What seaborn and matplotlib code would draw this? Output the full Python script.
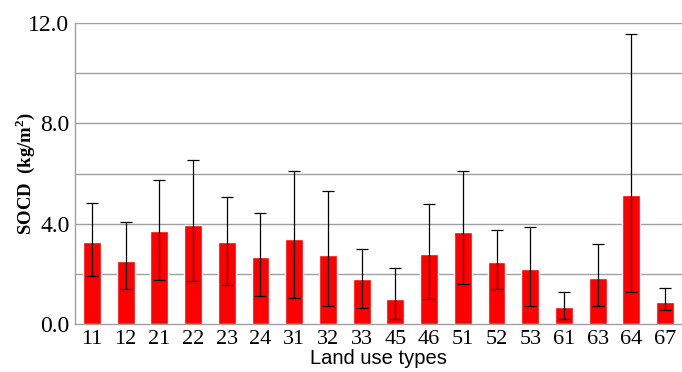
import numpy as np
import pandas as pd
import seaborn as sns
import matplotlib.pyplot as plt

# land use codes and SOCD values
land_use = ["11", "12", "21", "22", "23", "24", "31", "32", "33",
            "45", "46", "51", "52", "53", "61", "63", "64", "67"]
socd_mean = [3.27, 2.51, 3.71, 3.93, 3.28, 2.67, 3.39, 2.76, 1.78,
             1.01, 2.79, 3.67, 2.48, 2.18, 0.69, 1.82, 5.15, 0.88]
err_low = [1.90, 1.38, 1.74, 1.70, 1.54, 1.12, 1.05, 0.73, 0.65,
           0.19, 0.98, 1.59, 1.41, 0.73, 0.20, 0.73, 1.26, 0.55]
err_high = [4.82, 4.06, 5.76, 6.52, 5.07, 4.43, 6.10, 5.30, 2.99,
            2.23, 4.78, 6.12, 3.73, 3.86, 1.27, 3.20, 11.55, 1.42]

df = pd.DataFrame({"type": land_use, "socd": socd_mean})

sns.set_style("white")
plt.rcParams["font.family"] = ["Liberation Serif", "DejaVu Serif"]
plt.rcParams["text.color"] = "black"
plt.rcParams["xtick.color"] = "black"
plt.rcParams["ytick.color"] = "black"
plt.rcParams["axes.labelcolor"] = "black"

fig = plt.figure(figsize=(6.82, 3.72), dpi=100)
ax = fig.add_axes([0.110, 0.129, 0.890, 0.809])

sns.barplot(data=df, x="type", y="socd", color="#ff0000", saturation=1,
            width=0.53, errorbar=None, ax=ax, zorder=3)

xs = [p.get_x() + p.get_width() / 2 for p in ax.patches]
mean = np.array(socd_mean)
yerr = [mean - np.array(err_low), np.array(err_high) - mean]
ax.errorbar(xs, mean, yerr=yerr, fmt="none", ecolor="black",
            elinewidth=0.9, capsize=4, capthick=0.9, zorder=4)

ax.set_ylim(0, 12)
ax.set_xlim(-0.5, 17.5)
ax.set_yticks([0, 4, 8, 12])
ax.set_yticklabels(["0.0", "4.0", "8.0", "12.0"])
for g in [2, 4, 6, 8, 10, 12]:
    ax.axhline(g, color="#a0a0a0", lw=1.0, zorder=1)

ax.tick_params(axis="both", length=0, pad=4)
ax.tick_params(axis="x", labelsize=16)
ax.tick_params(axis="y", labelsize=17)
for s in ["top", "right"]:
    ax.spines[s].set_visible(False)
for s in ["left", "bottom"]:
    ax.spines[s].set_color("#a0a0a0")
    ax.spines[s].set_linewidth(1.0)

ax.set_xlabel("Land use types", fontsize=14.5, family="Liberation Sans", labelpad=0)
ax.set_ylabel("SOCD  (kg/m$^\\mathregular{2}$)", fontsize=13.5, fontweight="bold")
ax.yaxis.set_label_coords(-0.062, 0.5)

fig.savefig("out.png", dpi=100)
